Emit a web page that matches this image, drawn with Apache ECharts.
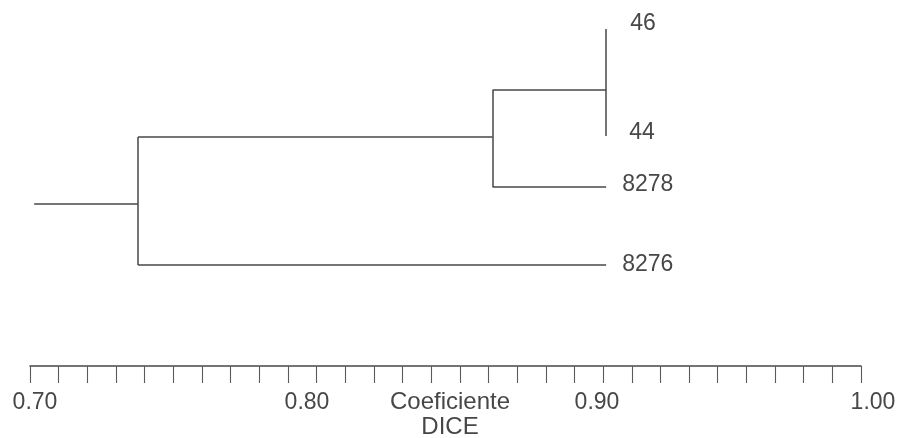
<!DOCTYPE html>
<html>
<head>
<meta charset="utf-8">
<script src="https://cdn.jsdelivr.net/npm/echarts@6/dist/echarts.min.js"></script>
<style>
html,body{margin:0;padding:0;background:#fff;}
#chart{width:902px;height:438px;}
</style>
</head>
<body>
<div id="chart"></div>
<script>
// ---- data ----
const leafNames = ['46', '44', '8278', '8276'];
const leafPos = [0.29, 1.36, 1.87, 2.65];          // vertical order positions of leaves
const mergeLeft = [0, 4, 5];                        // node ids: leaves 0..3, merges 4..6
const mergeRight = [1, 2, 3];
const mergeSim = [0.908, 0.867, 0.739];             // DICE similarity at each join
const mergePos = [0.90, 1.37, 2.04];                // vertical position of each join
const leafEnd = 0.908;                              // where leaf branches end
const rootStart = 0.7015;                           // start of the root stub
const tickLabels = ['0.70', '0.80', '0.90', '1.00'];
const tickValues = [0.70, 0.80, 0.90, 1.00];
const minorTickCount = 29;                          // intervals of the printed ruler
const axisTitle = 'Coeficiente\nDICE';

// ---- styles ----
const INK = '#474747';
const FONT = "'Liberation Sans', Arial, sans-serif";
const labelOffsets = [[8, -5], [7, -3], [0, -2], [0, 0]];
const labelShift = [10, 0, 26, 24];

// ---- build segments ----
const nLeaf = leafNames.length;
function nodeX(id) { return id < nLeaf ? leafEnd : mergeSim[id - nLeaf]; }
function nodeY(id) { return id < nLeaf ? leafPos[id] : mergePos[id - nLeaf]; }
const segs = [];
for (let m = 0; m < mergeSim.length; m++) {
  const x = mergeSim[m];
  const a = mergeLeft[m], b = mergeRight[m];
  segs.push({ coords: [[x, nodeY(a)], [x, nodeY(b)]] });
  [a, b].forEach(function (c) {
    if (nodeX(c) !== x) segs.push({ coords: [[x, nodeY(c)], [nodeX(c), nodeY(c)]] });
  });
}
const rootIdx = mergeSim.length - 1;
segs.push({ coords: [[rootStart, mergePos[rootIdx]], [mergeSim[rootIdx], mergePos[rootIdx]]] });

const leafLabelData = leafNames.map(function (n, i) {
  return {
    name: n,
    value: [leafEnd, leafPos[i]],
    label: { offset: labelOffsets[i] }
  };
});

const rich = {};
tickLabels.forEach(function (t, i) {
  rich['s' + i] = { fontFamily: FONT, fontSize: 23, color: INK, padding: [0, 0, 0, labelShift[i]] };
});

const chart = echarts.init(document.getElementById('chart'), null, { renderer: 'canvas' });
chart.setOption({
  animation: false,
  backgroundColor: '#ffffff',
  grid: { left: 30, right: 41, top: 0, bottom: 72, containLabel: false },
  xAxis: [
    {
      type: 'value', min: 0.7, max: 1.0, interval: 0.1, position: 'bottom',
      axisLine: { show: false }, axisTick: { show: false }, splitLine: { show: false },
      axisLabel: {
        show: true, margin: 25, showMinLabel: true, showMaxLabel: true,
        formatter: function (v) {
          const i = tickValues.findIndex(function (t) { return Math.abs(t - v) < 1e-6; });
          return i < 0 ? '' : '{s' + i + '|' + tickLabels[i] + '}';
        },
        rich: rich
      }
    },
    {
      type: 'value', min: 0, max: minorTickCount, interval: 1, position: 'bottom', offset: 0,
      axisLine: { show: true, lineStyle: { color: INK, width: 1.5 } },
      axisTick: { show: true, length: 17, lineStyle: { color: '#5a5a5a', width: 1.1 } },
      axisLabel: { show: false }, splitLine: { show: false }
    }
  ],
  yAxis: { type: 'value', inverse: true, min: 0, max: 3.66, show: false },
  graphic: [{
    type: 'text', x: 450, y: 390,
    style: {
      text: axisTitle, align: 'center', verticalAlign: 'top',
      fontFamily: FONT, fontSize: 24, lineHeight: 25, fill: INK
    }
  }],
  series: [
    {
      type: 'lines', coordinateSystem: 'cartesian2d', xAxisIndex: 0, yAxisIndex: 0,
      polyline: false, silent: true,
      lineStyle: { color: INK, width: 1.5, opacity: 1 },
      data: segs
    },
    {
      type: 'scatter', xAxisIndex: 0, yAxisIndex: 0, symbolSize: 0, silent: true,
      itemStyle: { opacity: 1 },
      label: {
        show: true, position: 'right', distance: 16, opacity: 1,
        formatter: function (p) { return p.name; },
        fontFamily: FONT, fontSize: 23, color: INK
      },
      data: leafLabelData
    }
  ]
});
</script>
</body>
</html>
